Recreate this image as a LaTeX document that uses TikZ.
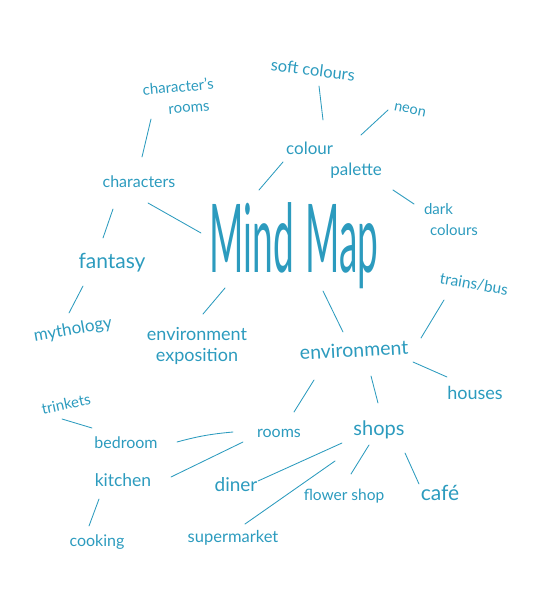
\documentclass[tikz,border=0pt]{standalone}
\usepackage{fontspec}
\setmainfont{Lato}
\usepackage{graphicx}
\definecolor{ink}{RGB}{44,155,190}
\begin{document}
\begin{tikzpicture}[x=1pt,y=-1pt,
  lbl/.style={text=ink, align=center, inner sep=2pt},
  fs/.style={font=\fontsize{#1}{21}\selectfont},
  conn/.style={draw=ink, line width=0.85pt, line cap=round}]
\useasboundingbox (0,0) rectangle (540,597);
% nodes
\node[lbl, fs=16.5, rotate=-7] (soft) at (313,70) {soft colours};
\node[lbl, fs=14.5, rotate=-12] (neon) at (410,110) {neon};
\node[lbl, fs=17, align=left] (palette) at (334,160) {colour\\\hspace*{2.6em}palette};
\node[lbl, fs=15, align=left] (dark) at (451,220) {dark\\\hspace*{0.4em}colours};
\node[lbl, fs=15, rotate=5] (crooms) at (179,97) {character's\\\hspace*{1.2em}rooms};
\node[lbl, fs=16] (characters) at (139,182) {characters};
\node[lbl] (mind) at (294,246) {\scalebox{0.39}[1]{\fontsize{95}{95}\selectfont Mind\hspace{0.3em}Map}};
\node[lbl, fs=21] (fantasy) at (112,263) {fantasy};
\node[lbl, fs=17, rotate=10] (myth) at (73,330) {mythology};
\node[lbl, fs=18] (expo) at (197,346) {environment\\exposition};
\node[lbl, fs=19.5, rotate=3] (env) at (354,350) {environment};
\node[lbl, fs=15.5, rotate=-10] (trains) at (474,284) {trains/bus};
\node[lbl, fs=18] (houses) at (475,393) {houses};
\node[lbl, fs=15, rotate=12] (trinkets) at (66,404) {trinkets};
\node[lbl, fs=16] (bedroom) at (126,443) {bedroom};
\node[lbl, fs=17.5] (kitchen) at (123,480) {kitchen};
\node[lbl, fs=16] (cooking) at (97,542) {cooking};
\node[lbl, fs=16] (rooms) at (279,433) {rooms};
\node[lbl, fs=20] (shops) at (379,430) {shops};
\node[lbl, fs=19] (diner) at (236,485) {diner};
\node[lbl, fs=15.5] (flower) at (344,496) {flower shop};
\node[lbl, fs=21] (cafe) at (440,493) {café};
\node[lbl, fs=16.5] (super) at (233,538) {supermarket};
% connectors
\draw[conn] ([shift={(6,16)}]soft.center) -- ([shift={(-11,-40)}]palette.center);
\draw[conn] ([shift={(27,-25)}]palette.center) -- ([shift={(-22,0)}]neon.center);
\draw[conn] ([shift={(59,30)}]palette.center) -- ([shift={(-37,-16)}]dark.center);
\draw[conn] ([shift={(-51,2)}]palette.center) -- ([shift={(-35,-56)}]mind.center);
\draw[conn] ([shift={(-28,22)}]crooms.center) -- ([shift={(3,-25)}]characters.center);
\draw[conn] ([shift={(9,21)}]characters.center) -- ([shift={(-93,-13)}]mind.center);
\draw[conn] ([shift={(-26,27)}]characters.center) -- ([shift={(-9,-25)}]fantasy.center);
\draw[conn] ([shift={(-29,23)}]fantasy.center) -- ([shift={(-4,-17)}]myth.center);
\draw[conn] ([shift={(-69,42)}]mind.center) -- ([shift={(6,-32)}]expo.center);
\draw[conn] ([shift={(29,45)}]mind.center) -- ([shift={(-11,-18)}]env.center);
\draw[conn] ([shift={(67,-12)}]env.center) -- ([shift={(-30,16)}]trains.center);
\draw[conn] ([shift={(59,12)}]env.center) -- ([shift={(-28,-16)}]houses.center);
\draw[conn] ([shift={(-40,30)}]env.center) -- ([shift={(15,-21)}]rooms.center);
\draw[conn] ([shift={(17,26)}]env.center) -- ([shift={(-1,-27)}]shops.center);
\draw[conn] ([shift={(-4,15)}]trinkets.center) -- ([shift={(-34,-15)}]bedroom.center);
\draw[conn] ([shift={(51,-1)}]bedroom.center) to[bend left=5] ([shift={(-46,-1)}]rooms.center);
\draw[conn] ([shift={(48,-3)}]kitchen.center) -- ([shift={(-36,9)}]rooms.center);
\draw[conn] ([shift={(-24,19)}]kitchen.center) -- ([shift={(-8,-16)}]cooking.center);
\draw[conn] ([shift={(22,-4)}]diner.center) -- ([shift={(-37,13)}]shops.center);
\draw[conn] ([shift={(12,-14)}]super.center) -- ([shift={(-44,31)}]shops.center);
\draw[conn] ([shift={(-10,15)}]shops.center) -- ([shift={(7,-22)}]flower.center);
\draw[conn] ([shift={(26,23)}]shops.center) -- ([shift={(-21,-9)}]cafe.center);
\end{tikzpicture}
\end{document}
